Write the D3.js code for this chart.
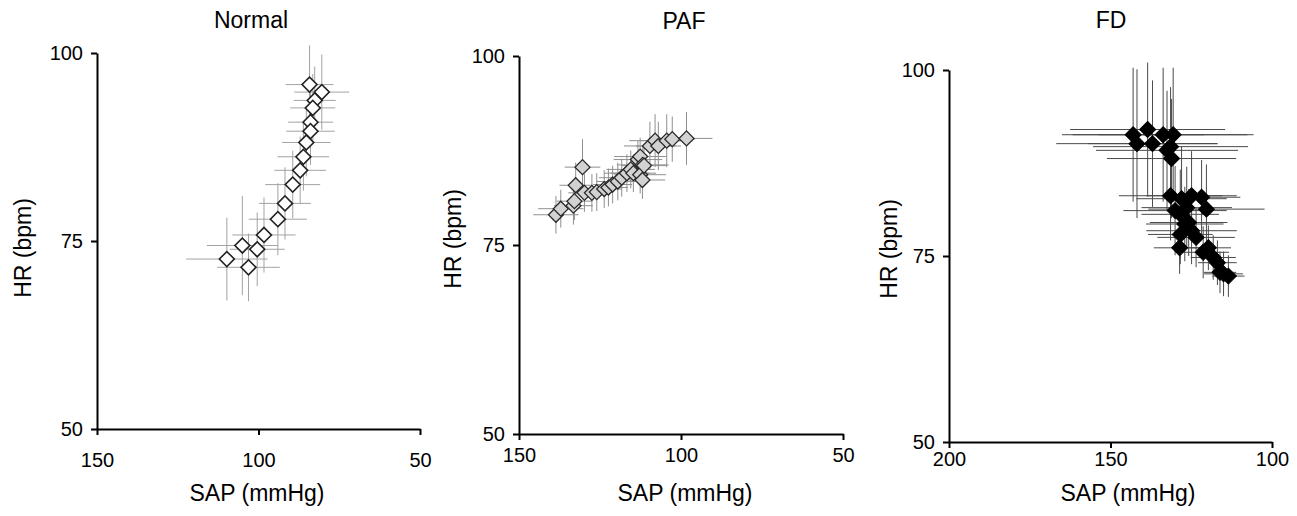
<!DOCTYPE html>
<html>
<head>
<meta charset="utf-8">
<script src="https://cdn.jsdelivr.net/npm/d3@7"></script>
<style>
  body { margin: 0; background: #fff; }
  svg { display: block; font-family: "Liberation Sans", Arial, sans-serif; }
  .axis path, .axis line { stroke: #000; stroke-width: 2; }
  .axis text { font-size: 20px; fill: #000; font-family: "Liberation Sans", Arial, sans-serif; }
  .lbl { font-size: 23px; fill: #000; }
</style>
</head>
<body>
<svg width="1297" height="516"></svg>
<script>
// panel titles and tick values
var panelNames = ["Normal", "PAF", "FD"];
var hrTicks = [50, 75, 100];
var sapTicksA = [150, 100, 50];
var sapTicksFD = [200, 150, 100];

// Normal
var normalSap = [84.2, 80.4, 82.6, 83.2, 83.9, 83.9, 85.2, 86.1, 87.1, 89.4, 91.8, 94.0, 98.3, 100.4, 105.0, 109.8, 103.1];
var normalHr = [95.8, 94.8, 93.7, 92.7, 90.8, 89.6, 88.1, 86.2, 84.4, 82.5, 80.0, 77.9, 75.8, 73.9, 74.4, 72.6, 71.5];
var normalSapErr = [7.4, 8.5, 6.5, 7, 7, 7.5, 7.5, 8, 8, 8.5, 8, 9, 9.8, 8.5, 11, 12.6, 9.7];
var normalHrErr = [5.2, 5, 4.5, 4.5, 4.5, 4.5, 4.5, 4.5, 4.5, 4.5, 4.8, 4.8, 5, 4.9, 6.6, 5.5, 4.5];

// PAF
var pafSap = [138.6, 137.1, 133.2, 132.9, 132.5, 130.4, 129.8, 127.5, 126.0, 123.7, 122.4, 121.1, 119.5, 118.3, 116.7, 115.5, 114.7, 113.3, 112.6, 111.8, 112.6, 111.9, 111.4, 109.6, 108.0, 107.0, 104.4, 102.7, 98.3];
var pafHr = [79.0, 79.8, 80.2, 80.8, 82.9, 85.3, 81.9, 81.9, 82.0, 82.4, 82.6, 83.0, 83.4, 83.9, 84.5, 85.0, 84.5, 86.3, 86.7, 85.6, 84.3, 83.6, 85.5, 88.1, 88.8, 88.1, 88.8, 89.0, 89.1];
var pafSapErr = [7, 7, 6, 5.5, 5, 5.5, 5, 5, 5, 5.5, 6, 6, 6.5, 7, 7, 7.5, 7, 7.5, 8, 8, 8, 7, 7, 8, 8, 7, 8, 7, 8];
var pafHrErr = [2.5, 2.5, 2.5, 2.5, 3, 3.7, 2.5, 2.5, 2.5, 2.5, 2.5, 2.5, 2.5, 2.5, 2.5, 2.5, 2.5, 2.5, 2.5, 2.5, 2.5, 2.5, 2.5, 3.2, 3.5, 3.2, 3.5, 3, 3.5];

// FD
var fdSap = [143.0, 141.8, 138.5, 137.0, 133.7, 130.6, 131.4, 132.5, 131.1, 131.4, 128.0, 124.9, 121.8, 120.3, 130.0, 128.4, 126.4, 127.0, 125.8, 124.9, 128.4, 123.5, 128.6, 121.3, 119.7, 118.2, 116.9, 116.1, 113.5, 115.0];
var fdHr = [91.3, 90.1, 92.0, 90.1, 91.3, 91.3, 89.7, 89.2, 88.1, 83.1, 82.7, 83.1, 82.9, 81.3, 81.1, 80.6, 81.5, 79.3, 79.5, 78.4, 77.9, 77.5, 76.1, 75.5, 76.1, 74.8, 74.1, 72.8, 72.3, 72.6];
var fdSapErr = [22, 25, 24, 20, 28, 23, 24, 22, 20, 16, 14, 14, 12, 18, 16, 12, 14, 12, 12, 14, 10, 12, 8, 8, 7, 7, 6, 5, 5, 6];
var fdHrErr = [9, 10, 9, 8.5, 9, 9, 8, 8, 8, 6, 7, 6, 5, 6, 6, 6, 5.5, 5, 4.5, 4.5, 4, 4, 3.5, 3.5, 3, 3, 3, 2.8, 2.8, 3];

var svg = d3.select("svg");

var panels = [
  {name: panelNames[0], sap: normalSap, hr: normalHr, se: normalSapErr, he: normalHrErr,
   dom: [150, 50], ticks: sapTicksA, x0: 97, x1: 420, yT: 53, yB: 429, pad: 18,
   title: [251, 28], xl: [257, 501], yl: [23, 248], size: 112,
   fill: "#fff", stroke: "#222", sw: 1.6, bar: "#a3a3a3"},
  {name: panelNames[1], sap: pafSap, hr: pafHr, se: pafSapErr, he: pafHrErr,
   dom: [150, 50], ticks: sapTicksA, x0: 519, x1: 843, yT: 56, yB: 434, pad: 8,
   title: [684, 29], xl: [685, 501], yl: [453, 239], size: 112,
   fill: "#d2d2d2", stroke: "#2a2a2a", sw: 1.3, bar: "#8f8f8f"},
  {name: panelNames[2], sap: fdSap, hr: fdHr, se: fdSapErr, he: fdHrErr,
   dom: [200, 100], ticks: sapTicksFD, x0: 949, x1: 1272, yT: 70, yB: 442, pad: 4,
   title: [1111, 28], xl: [1128, 501], yl: [889, 249], size: 128,
   fill: "#000", stroke: "#000", sw: 1, bar: "#4a4a4a"}
];

panels.forEach(function (p) {
  var x = d3.scaleLinear().domain(p.dom).range([p.x0, p.x1]);
  var y = d3.scaleLinear().domain([50, 100]).range([p.yB, p.yT]);
  var diamond = d3.symbol().type(d3.symbolSquare).size(p.size);
  var pts = p.sap.map(function (s, i) {
    return {sap: s, hr: p.hr[i], se: p.se[i], he: p.he[i]};
  });

  var g = svg.append("g");

  // error bars
  var eb = g.append("g").attr("stroke", p.bar).attr("stroke-width", 1);
  eb.selectAll(".h").data(pts).enter().append("line")
    .attr("x1", d => x(d.sap - d.se)).attr("x2", d => x(d.sap + d.se))
    .attr("y1", d => y(d.hr)).attr("y2", d => y(d.hr));
  eb.selectAll(".v").data(pts).enter().append("line")
    .attr("x1", d => x(d.sap)).attr("x2", d => x(d.sap))
    .attr("y1", d => y(d.hr - d.he)).attr("y2", d => y(d.hr + d.he));

  // axes
  g.append("g").attr("class", "axis")
    .attr("transform", "translate(0," + p.yB + ")")
    .call(d3.axisBottom(x).tickValues(p.ticks).tickSize(6).tickPadding(p.pad).tickSizeOuter(0));
  g.append("g").attr("class", "axis")
    .attr("transform", "translate(" + p.x0 + ",0)")
    .call(d3.axisLeft(y).tickValues(hrTicks).tickSize(6).tickPadding(8).tickSizeOuter(0));

  // markers
  g.append("g").selectAll("path").data(pts).enter().append("path")
    .attr("d", diamond)
    .attr("transform", d => "translate(" + x(d.sap) + "," + y(d.hr) + ") rotate(45)")
    .attr("fill", p.fill).attr("stroke", p.stroke).attr("stroke-width", p.sw);

  // labels
  g.append("text").attr("class", "lbl").attr("text-anchor", "middle")
    .attr("x", p.title[0]).attr("y", p.title[1]).text(p.name);
  g.append("text").attr("class", "lbl").attr("text-anchor", "middle")
    .attr("x", p.xl[0]).attr("y", p.xl[1]).text("SAP (mmHg)");
  g.append("text").attr("class", "lbl").attr("text-anchor", "middle")
    .attr("transform", "translate(" + p.yl[0] + "," + p.yl[1] + ") rotate(-90)")
    .attr("dy", "0.35em").text("HR (bpm)");
});
</script>
</body>
</html>
